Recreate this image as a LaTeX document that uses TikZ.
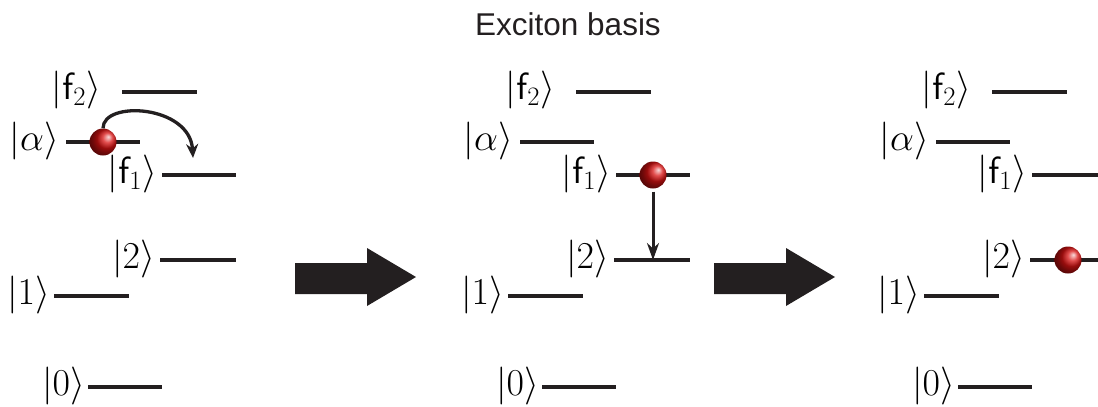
\RequirePackage{fix-cm}
\documentclass[tikz,border=0pt]{standalone}
\usepackage[no-math]{fontspec}
\newfontfamily\titlefont{Liberation Sans}
\usetikzlibrary{arrows.meta,calc}
\definecolor{ink}{HTML}{231F20}
\definecolor{ballred}{HTML}{D81212}
\begin{document}
\begin{tikzpicture}[x=1pt,y=-1pt,
  level/.style={draw=ink, line width=3.6pt},
  ket/.style={inner sep=0pt, anchor=east, text=black, font=\fontsize{38}{40}\selectfont},
  ballnode/.style={circle, inner sep=0pt, minimum size=27pt, ball color=ballred, shading angle=-90},
  jump/.style={draw=ink, line width=3.3pt, -{Stealth[length=14pt,width=12pt]}},
  decay/.style={draw=ink, line width=3pt, -{Stealth[length=17pt,width=12pt]}},
  bigarrow/.style={fill=ink}]
\useasboundingbox (0,0) rectangle (1098,407);
\clip (0,0) rectangle (1098,407);

\node[font=\titlefont\fontsize{31.5}{36}\selectfont, text=ink, anchor=base] (title) at (568,35) {Exciton basis};

\foreach \p/\dx in {1/0,2/454,3/870}{
  \begin{scope}[xshift=\dx]
    \draw[level] (122,92) coordinate (f2a\p) -- (197,92) coordinate (f2b\p);
    \draw[level] (66,142) coordinate (aa\p) -- (140,142) coordinate (ab\p);
    \draw[level] (162,175) coordinate (f1a\p) -- (236,175) coordinate (f1b\p);
    \draw[level] (160,260) coordinate (twa\p) -- (236,260) coordinate (twb\p);
    \draw[level] (54,296) coordinate (ona\p) -- (129,296) coordinate (onb\p);
    \draw[level] (88,387) coordinate (zea\p) -- (162,387) coordinate (zeb\p);
    \node[ket] (kf2\p) at (101,90) {$|\mathsf{f}_2\rangle$};
    \node[ket] (ka\p) at (59,141) {$|\alpha\rangle$};
    \node[ket] (kf1\p) at (157,174) {$|\mathsf{f}_1\rangle$};
    \node[ket] (k2\p) at (155,259) {$|2\rangle$};
    \node[ket] (k1\p) at (50,295) {$|1\rangle$};
    \node[ket] (k0\p) at (85,386) {$|0\rangle$};
  \end{scope}
}

% panel 1: hop from alpha to f1
\node[ballnode] (b1) at ($(aa1)!0.5!(ab1)$) {};
\coordinate (t1) at (193,158);
\draw[jump] (b1.north) .. controls (103,100) and (190,105) .. (t1);

% panel 2: relaxation from f1 to 2
\node[ballnode] (b2) at ($(f1a2)!0.5!(f1b2)$) {};
\coordinate (t2) at ($(twa2)!0.5!(twb2)$);
\draw[decay, shorten <=3pt] (b2.south) -- (b2.south |- t2);

% panel 3: particle on level 2
\node[ballnode] (b3) at ($(twa3)!0.5!(twb3)$) {};

% big arrows
\fill[bigarrow] (295,263) -- (367,263) -- (367,248) -- (416,277) -- (367,306) -- (367,294) -- (295,294) -- cycle;
\fill[bigarrow] (714,263) -- (786,263) -- (786,248) -- (835,277) -- (786,306) -- (786,294) -- (714,294) -- cycle;
\end{tikzpicture}
\end{document}
